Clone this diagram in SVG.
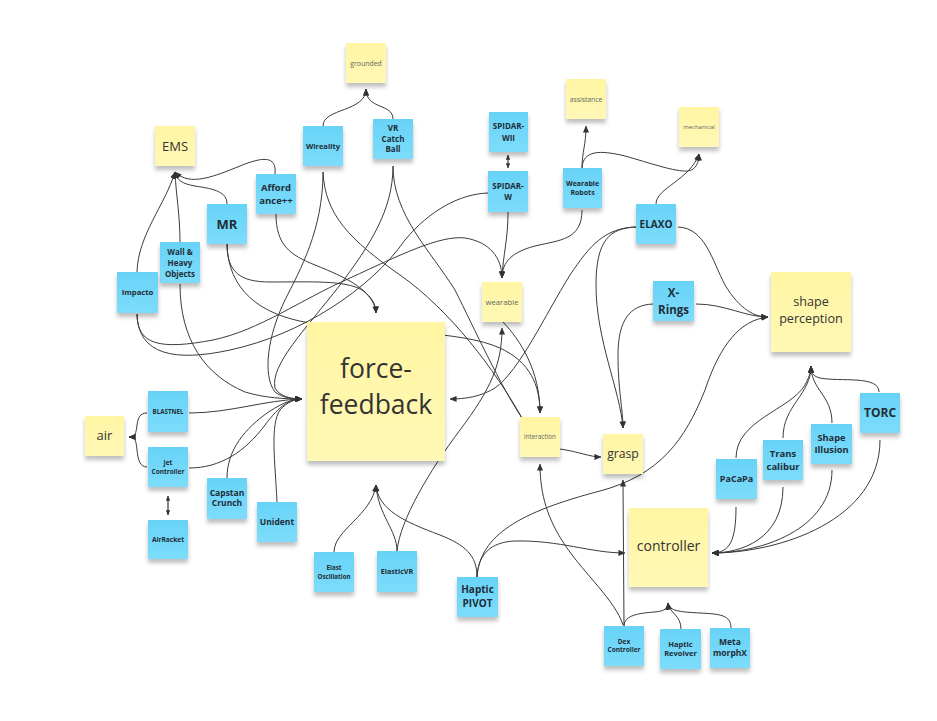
<svg xmlns="http://www.w3.org/2000/svg" width="937" height="721" viewBox="0 0 937 721">
<defs>
<linearGradient id="gb" x1="0" y1="0" x2="0" y2="1"><stop offset="0" stop-color="#68d3f7"/><stop offset="1" stop-color="#7ddcfb"/></linearGradient>
<linearGradient id="gy" x1="0" y1="0" x2="0" y2="1"><stop offset="0" stop-color="#fff5a2"/><stop offset="1" stop-color="#fff8b6"/></linearGradient>
<filter id="sh" x="-20%" y="-20%" width="140%" height="160%"><feDropShadow dx="0" dy="4" stdDeviation="2.2" flood-color="#000" flood-opacity="0.25"/></filter>
<marker id="ah" viewBox="0 0 8 8" refX="7.5" refY="4" markerWidth="7" markerHeight="7" markerUnits="userSpaceOnUse" orient="auto"><path d="M0,0.5 L8,4 L0,7.5 z" fill="#333"/></marker>
<marker id="as" viewBox="0 0 8 8" refX="7.5" refY="4" markerWidth="5" markerHeight="5" markerUnits="userSpaceOnUse" orient="auto-start-reverse"><path d="M0,0.5 L8,4 L0,7.5 z" fill="#333"/></marker>
</defs>
<style>
.c{fill:none;stroke:#3b3b3b;stroke-width:1;marker-end:url(#ah)}
.n{fill:none;stroke:#3b3b3b;stroke-width:1}
.d{fill:none;stroke:#3b3b3b;stroke-width:1.2;marker-start:url(#as);marker-end:url(#as)}
.b rect{fill:url(#gb);filter:url(#sh)}
.y rect{fill:url(#gy);filter:url(#sh)}
.b text{font-family:"Open Sans","Liberation Sans",sans-serif;font-weight:700;fill:#1f2d36;text-anchor:middle}
.y text{font-family:"Open Sans","Liberation Sans",sans-serif;fill:#333;text-anchor:middle}
.y text.s{fill:#666}
</style>
<rect width="937" height="721" fill="#fff"/>
<g id="connectors">
<path class="c" d="M323,126 C323,108 366,112 366,89"/>
<path class="c" d="M393,119 C393,103 366,110 366,89"/>
<path class="c" d="M180,242 C180,215 176,195 175,172"/>
<path class="c" d="M137,272 C138,235 165,205 175,172"/>
<path class="c" d="M227,204 C227,192 215,189 195,186 C183,184 176,180 175,172"/>
<path class="c" d="M275,174 C277,155 262,157 240,166 C215,176 190,187 175,172"/>
<path class="c" d="M582,168 C582,152 586,145 586,126"/>
<path class="c" d="M582,168 C583,150 600,150 625,156 C650,163 675,172 688,171 C696,170 699,162 699,154"/>
<path class="c" d="M656,204 C656,188 690,180 699,154"/>
<path class="d" d="M508,155 L508,168"/>
<path class="c" d="M508,212 C508,240 503,255 502,278"/>
<path class="c" d="M582,210 C582,240 560,240 535,246 C512,252 502,262 502,278"/>
<path class="c" d="M137,314 C137,345 160,350 213,340 C260,330 300,300 350,278 C400,255 440,235 465,238 C490,242 502,258 502,278"/>
<path class="n" d="M137,314 C138,355 175,362 230,350 C300,335 370,290 405,240 C430,210 460,194 488,193"/>
<path class="c" d="M180,284 C180,340 205,375 245,392 C265,398 285,399 302,399"/>
<path class="c" d="M189,413 C230,413 265,400 302,399"/>
<path class="c" d="M189,468 C220,468 245,452 265,425 C280,405 290,399 302,399"/>
<path class="c" d="M227,478 C227,450 245,428 270,411 C283,403 292,399 302,399"/>
<path class="c" d="M277,502 C275,460 270,425 280,410 C287,402 295,399 302,399"/>
<path class="c" d="M323,172 C323,230 300,270 285,300 C268,335 262,375 275,392 C283,398 293,399 302,399"/>
<path class="c" d="M393,166 C393,210 370,245 340,285 C305,330 270,365 275,388 C280,397 292,399 302,399"/>
<path class="n" d="M323,172 C325,215 350,240 400,275 C450,310 495,370 522,418"/>
<path class="n" d="M393,166 C393,215 430,250 455,290 C475,330 500,385 522,418"/>
<path class="c" d="M227,244 C227,272 240,282 270,282 C310,282 345,280 362,290 C372,297 376,305 376,313"/>
<path class="c" d="M276,214 C276,245 290,255 315,265 C345,277 374,290 376,313"/>
<path class="c" d="M227,244 C228,290 260,315 310,323 C380,333 460,330 500,348 C530,362 540,385 540,413"/>
<path class="c" d="M503,322 C520,340 540,370 540,413"/>
<path class="c" d="M636,227 C605,228 590,245 570,275 C545,315 520,370 495,388 C480,397 465,399 450,399"/>
<path class="c" d="M636,227 C610,228 596,240 596,285 C596,340 620,390 623,428"/>
<path class="c" d="M653,304 C630,305 618,320 618,355 C618,390 623,410 623,428"/>
<path class="c" d="M696,304 C725,304 745,317 768,317"/>
<path class="c" d="M678,227 C705,228 712,260 725,285 C740,310 755,317 768,317"/>
<path class="c" d="M477,577 C480,535 520,512 600,491 C660,475 685,440 705,390 C720,345 740,320 768,317"/>
<path class="c" d="M477,577 C478,555 490,542 515,541 C560,540 590,553 625,553"/>
<path class="c" d="M477,577 C477,555 465,545 440,535 C405,522 378,510 376,485"/>
<path class="c" d="M397,551 C397,530 378,515 376,485"/>
<path class="c" d="M334,552 C334,530 372,515 376,485"/>
<path class="c" d="M397,551 C400,520 430,470 460,430 C490,390 502,365 502,328"/>
<path class="c" d="M560,449 C580,452 590,457 601,457"/>
<path class="c" d="M624,626 L623,480"/>
<path class="c" d="M623,625 C615,600 585,575 565,545 C548,520 540,495 540,464"/>
<path class="c" d="M624,626 C624,615 640,613 655,612 C665,611 668,608 668,603"/>
<path class="c" d="M681,629 C681,615 670,614 668,603"/>
<path class="c" d="M731,628 C731,615 720,614 700,613 C680,612 669,611 668,603"/>
<path class="c" d="M736,507 C736,540 730,553 712,553"/>
<path class="c" d="M783,487 C783,540 740,553 712,553"/>
<path class="c" d="M832,470 C832,530 760,553 712,553"/>
<path class="c" d="M880,440 C880,520 780,553 712,553"/>
<path class="c" d="M736,458 C736,420 790,410 805,385 C810,375 811,372 811,366"/>
<path class="c" d="M783,438 C783,405 811,395 811,366"/>
<path class="c" d="M832,423 C832,395 811,390 811,366"/>
<path class="c" d="M879,392 C879,375 840,382 820,378 C812,376 811,372 811,366"/>
<path class="d" d="M168,496 L168,515"/>
<path class="c" d="M147,413 C140,413 138,418 137,425 C136,434 135,437 129,437"/>
<path class="c" d="M147,467 C140,467 138,460 137,450 C136,440 135,437 129,437"/>
</g>
<g id="grounded" class="y"><rect x="346" y="43" width="40" height="40"/><text class="s" x="366" y="65.5" font-size="6.9">grounded</text></g>
<g id="ems" class="y"><rect x="155" y="126" width="40" height="40"/><text x="175" y="150.5" font-size="13">EMS</text></g>
<g id="assistance" class="y"><rect x="566" y="79" width="40" height="40"/><text class="s" x="586" y="101.5" font-size="6.8">assistance</text></g>
<g id="mechanical" class="y"><rect x="679" y="107" width="40" height="40"/><text class="s" x="699" y="129" font-size="6">mechanical</text></g>
<g id="wearable" class="y"><rect x="482" y="282" width="40" height="40"/><text class="s" x="502" y="304.5" font-size="7.7">wearable</text></g>
<g id="force-feedback" class="y"><rect x="307" y="322" width="138" height="139"/><text x="376" y="378" font-size="26.5">force-</text><text x="376" y="414" font-size="26.5">feedback</text></g>
<g id="shape-perception" class="y"><rect x="771" y="272" width="80" height="80"/><text x="811" y="306" font-size="12.6">shape</text><text x="811" y="323" font-size="12.6">perception</text></g>
<g id="air" class="y"><rect x="85" y="416" width="39" height="40"/><text x="104.5" y="440" font-size="13">air</text></g>
<g id="interaction" class="y"><rect x="520" y="417" width="40" height="40"/><text class="s" x="540" y="439" font-size="6.3">interaction</text></g>
<g id="grasp" class="y"><rect x="603" y="434" width="40" height="40"/><text x="623" y="457.5" font-size="12.2">grasp</text></g>
<g id="controller" class="y"><rect x="629" y="508" width="79" height="79"/><text x="668.5" y="551" font-size="14">controller</text></g>

<g id="wireality" class="b"><rect x="303" y="126" width="40" height="40"/><text x="323" y="148.5" font-size="7.5">Wireality</text></g>
<g id="vr-catch-ball" class="b"><rect x="373" y="119" width="40" height="40"/><text x="393" y="131" font-size="8">VR</text><text x="393" y="141.5" font-size="8">Catch</text><text x="393" y="152" font-size="8">Ball</text></g>
<g id="affordance" class="b"><rect x="256" y="174" width="40" height="40"/><text x="276" y="190.5" font-size="9.5">Afford</text><text x="276" y="203.8" font-size="9.5">ance++</text></g>
<g id="mr" class="b"><rect x="207" y="204" width="40" height="40"/><text x="227" y="228.5" font-size="13">MR</text></g>
<g id="wall-heavy" class="b"><rect x="160" y="242" width="40" height="41"/><text x="180" y="254.5" font-size="8">Wall &amp;</text><text x="180" y="265.5" font-size="8">Heavy</text><text x="180" y="276.5" font-size="8">Objects</text></g>
<g id="impacto" class="b"><rect x="117" y="272" width="41" height="41"/><text x="137.5" y="295" font-size="7.7">Impacto</text></g>
<g id="spidar-wii" class="b"><rect x="489" y="112" width="39" height="40"/><text x="508.5" y="129" font-size="8">SPIDAR-</text><text x="508.5" y="140.7" font-size="8">WII</text></g>
<g id="spidar-w" class="b"><rect x="488" y="171" width="40" height="41"/><text x="508" y="188.5" font-size="8">SPIDAR-</text><text x="508" y="200.2" font-size="8">W</text></g>
<g id="wearable-robots" class="b"><rect x="563" y="168" width="39" height="40"/><text x="582.5" y="185.7" font-size="7">Wearable</text><text x="582.5" y="195" font-size="7">Robots</text></g>
<g id="elaxo" class="b"><rect x="636" y="204" width="40" height="40"/><text x="656" y="227.5" font-size="10">ELAXO</text></g>
<g id="x-rings" class="b"><rect x="653" y="281" width="41" height="40"/><text x="673.5" y="296.5" font-size="11.5">X-</text><text x="673.5" y="313.5" font-size="11.5">Rings</text></g>
<g id="blastnel" class="b"><rect x="148" y="391" width="40" height="41"/><text x="168" y="413.5" font-size="6.2">BLASTNEL</text></g>
<g id="jet-controller" class="b"><rect x="148" y="447" width="40" height="40"/><text x="168" y="464.8" font-size="6.5">Jet</text><text x="168" y="473.5" font-size="6.5">Controller</text></g>
<g id="airracket" class="b"><rect x="148" y="520" width="40" height="39"/><text x="168" y="541.8" font-size="6.6">AirRacket</text></g>
<g id="capstan-crunch" class="b"><rect x="207" y="478" width="40" height="41"/><text x="227" y="495.5" font-size="8.5" font-weight="600">Capstan</text><text x="227" y="506.2" font-size="8.5" font-weight="600">Crunch</text></g>
<g id="unident" class="b"><rect x="257" y="502" width="40" height="40"/><text x="277" y="525" font-size="8.5" font-weight="600">Unident</text></g>
<g id="elast-oscillation" class="b"><rect x="314" y="552" width="40" height="40"/><text x="334" y="569.5" font-size="6.2">Elast</text><text x="334" y="578.5" font-size="6.2">Oscillation</text></g>
<g id="elasticvr" class="b"><rect x="377" y="551" width="40" height="41"/><text x="397" y="574" font-size="7.2">ElasticVR</text></g>
<g id="haptic-pivot" class="b"><rect x="457" y="577" width="41" height="40"/><text x="477.5" y="593.3" font-size="10">Haptic</text><text x="477.5" y="607.3" font-size="10">PIVOT</text></g>
<g id="dex-controller" class="b"><rect x="604" y="626" width="40" height="40"/><text x="624" y="644" font-size="6.5">Dex</text><text x="624" y="652" font-size="6.5">Controller</text></g>
<g id="haptic-revolver" class="b"><rect x="660" y="629" width="41" height="40"/><text x="680.5" y="646.7" font-size="7.5">Haptic</text><text x="680.5" y="656.4" font-size="7.5">Revolver</text></g>
<g id="metamorphx" class="b"><rect x="710" y="628" width="40" height="40"/><text x="730" y="645.3" font-size="8.5">Meta</text><text x="730" y="656.3" font-size="8.5">morphX</text></g>
<g id="pacapa" class="b"><rect x="716" y="459" width="41" height="40"/><text x="736.5" y="482" font-size="9">PaCaPa</text></g>
<g id="transcalibur" class="b"><rect x="763" y="440" width="40" height="40"/><text x="783" y="456.8" font-size="9.5" font-weight="600">Trans</text><text x="783" y="469.5" font-size="9.5" font-weight="600">calibur</text></g>
<g id="shape-illusion" class="b"><rect x="811" y="424" width="41" height="40"/><text x="831.5" y="441" font-size="9.3" font-weight="600">Shape</text><text x="831.5" y="453" font-size="9.3" font-weight="600">Illusion</text></g>
<g id="torc" class="b"><rect x="860" y="393" width="40" height="40"/><text x="880" y="417" font-size="12">TORC</text></g>
</svg>
